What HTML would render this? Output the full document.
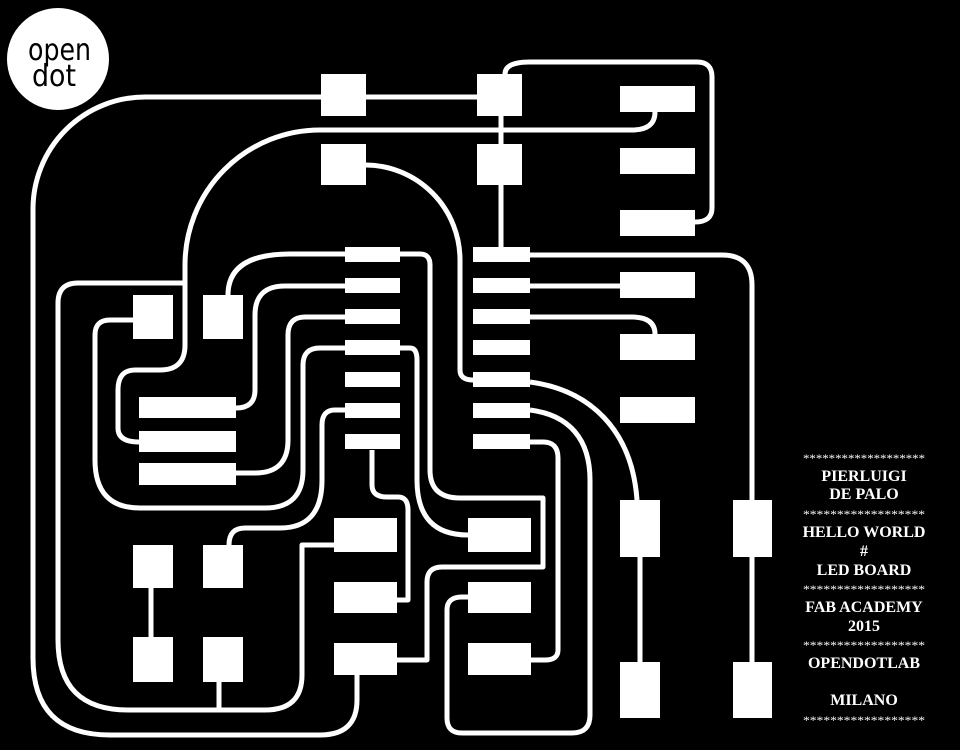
<!DOCTYPE html>
<html><head><meta charset="utf-8"><style>
html,body{margin:0;padding:0;background:#000;}
svg{display:block;}
</style></head><body>
<svg width="960" height="750" viewBox="0 0 960 750" xmlns="http://www.w3.org/2000/svg">
<rect width="960" height="750" fill="#000"/>
<circle cx="58" cy="59" r="51" fill="#fff"/>
<text x="28" y="60" font-family="DejaVu Sans, sans-serif" font-size="30" fill="#000" textLength="63" lengthAdjust="spacingAndGlyphs">open</text>
<text x="32" y="86" font-family="DejaVu Sans, sans-serif" font-size="30" fill="#000" textLength="44" lengthAdjust="spacingAndGlyphs">dot</text>
<g fill="none" stroke="#fff" stroke-width="5" stroke-linecap="butt" stroke-linejoin="round">
<path d="M321,97 H145 A112,112 0 0 0 33,209 V658 Q33,735 110,735 H320 Q357,735 357,700 V675"/>
<path d="M366,97 H477"/>
<path d="M505,74 Q505,62 530,62 H697 Q712,62 712,77 V208 Q712,222 695,222"/>
<path d="M655,112 Q655,130 632,130 H320 A135,135 0 0 0 185,265 V345 Q185,370 160,370 H135 Q118,370 118,390 V428 Q118,442 139,442"/>
<path d="M185,283 H78 Q58,283 58,303 V640 Q58,710 128,710 H265 Q302,710 302,675 V545 H334"/>
<path d="M219,682 V710"/>
<path d="M151,588 V637"/>
<path d="M133,320 H110 Q95,320 95,335 V460 Q95,508 140,508 H265 Q303,508 303,470 V365 Q303,348 320,348 H345"/>
<path d="M345,254 H290 Q228,254 228,295"/>
<path d="M345,286 H285 Q255,286 255,315 V390 Q255,408 236,408"/>
<path d="M345,317 H305 Q288,317 288,335 V440 Q288,473 255,473 H236"/>
<path d="M345,410 H335 Q322,410 322,425 V480 Q322,528 280,528 H245 Q229,528 229,545"/>
<path d="M400,254 H420 Q430,254 430,265 V470 Q430,498 460,498 H543 V567 H442 Q427,567 427,582 V660 H397"/>
<path d="M400,348 H410 Q417,348 417,360 V480 Q417,535 468,535"/>
<path d="M372,450 V485 Q372,497 387,497 H398 Q408,497 408,510 V600 H397"/>
<path d="M366,165 A95,95 0 0 1 460,260 V370 Q460,380 473,380"/>
<path d="M501,116 V247"/>
<path d="M530,255 H722 Q752,255 752,285 V718"/>
<path d="M530,286 H620"/>
<path d="M530,317 H632 Q655,317 655,334"/>
<path d="M530,382 C590,390 632,430 637,500"/>
<path d="M640,557 V662"/>
<path d="M530,410 C570,415 590,440 590,480 V715 Q590,733 572,733 H462 Q447,733 447,718 V610 Q447,597 462,597 H468"/>
<path d="M530,442 H543 Q558,442 558,458 V650 Q558,660 545,660 H531"/>
</g>
<g fill="#fff">
<rect x="321" y="74" width="45" height="42"/>
<rect x="477" y="74" width="45" height="42"/>
<rect x="321" y="144" width="45" height="41"/>
<rect x="477" y="144" width="45" height="41"/>
<rect x="620" y="86" width="75" height="26"/>
<rect x="620" y="148" width="75" height="26"/>
<rect x="620" y="210" width="75" height="26"/>
<rect x="620" y="272" width="75" height="26"/>
<rect x="620" y="334" width="75" height="26"/>
<rect x="620" y="397" width="75" height="26"/>
<rect x="345" y="247" width="55" height="15"/>
<rect x="345" y="278" width="55" height="15"/>
<rect x="345" y="309" width="55" height="15"/>
<rect x="345" y="340" width="55" height="15"/>
<rect x="345" y="372" width="55" height="15"/>
<rect x="345" y="403" width="55" height="15"/>
<rect x="345" y="434" width="55" height="15"/>
<rect x="473" y="247" width="57" height="15"/>
<rect x="473" y="278" width="57" height="15"/>
<rect x="473" y="309" width="57" height="15"/>
<rect x="473" y="340" width="57" height="15"/>
<rect x="473" y="372" width="57" height="15"/>
<rect x="473" y="403" width="57" height="15"/>
<rect x="473" y="434" width="57" height="15"/>
<rect x="133" y="295" width="40" height="44"/>
<rect x="203" y="295" width="40" height="44"/>
<rect x="139" y="397" width="97" height="21"/>
<rect x="139" y="431" width="97" height="21"/>
<rect x="139" y="463" width="97" height="22"/>
<rect x="133" y="545" width="40" height="43"/>
<rect x="203" y="545" width="40" height="43"/>
<rect x="133" y="637" width="40" height="45"/>
<rect x="203" y="637" width="40" height="45"/>
<rect x="334" y="518" width="63" height="34"/>
<rect x="334" y="582" width="63" height="31"/>
<rect x="334" y="643" width="63" height="32"/>
<rect x="468" y="518" width="63" height="34"/>
<rect x="468" y="582" width="63" height="31"/>
<rect x="468" y="643" width="63" height="32"/>
<rect x="620" y="500" width="40" height="57"/>
<rect x="620" y="662" width="40" height="56"/>
<rect x="733" y="500" width="39" height="57"/>
<rect x="733" y="662" width="39" height="56"/>
</g>
<g fill="#fff" font-family="Liberation Serif, serif" text-anchor="middle">
<text x="864" y="462" font-size="12" textLength="122" lengthAdjust="spacingAndGlyphs">*******************</text>
<text x="864" y="481" font-size="16" font-weight="bold">PIERLUIGI</text>
<text x="864" y="499" font-size="16" font-weight="bold">DE PALO</text>
<text x="864" y="518" font-size="12" textLength="122" lengthAdjust="spacingAndGlyphs">******************</text>
<text x="864" y="537" font-size="16" font-weight="bold">HELLO WORLD</text>
<text x="864" y="556" font-size="16" font-weight="bold">#</text>
<text x="864" y="575" font-size="16" font-weight="bold">LED BOARD</text>
<text x="864" y="593" font-size="12" textLength="122" lengthAdjust="spacingAndGlyphs">******************</text>
<text x="864" y="612" font-size="16" font-weight="bold">FAB ACADEMY</text>
<text x="864" y="631" font-size="16" font-weight="bold">2015</text>
<text x="864" y="649" font-size="12" textLength="122" lengthAdjust="spacingAndGlyphs">******************</text>
<text x="864" y="668" font-size="16" font-weight="bold">OPENDOTLAB</text>
<text x="864" y="705" font-size="16" font-weight="bold">MILANO</text>
<text x="864" y="724" font-size="12" textLength="122" lengthAdjust="spacingAndGlyphs">******************</text>
</g>
</svg>
</body></html>
